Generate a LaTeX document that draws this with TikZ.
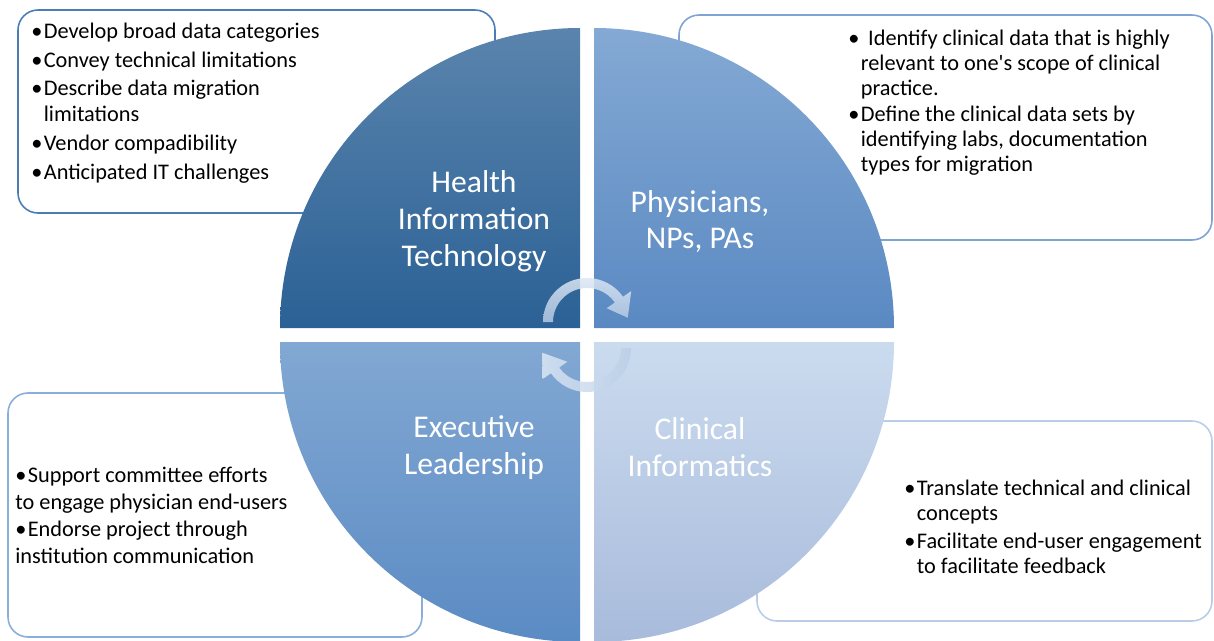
\documentclass[tikz,border=0pt]{standalone}
\usepackage{fontspec}
\setmainfont{Carlito}
\usepackage{xcolor}
\usepackage{tikz}
\usetikzlibrary{calc}

\definecolor{hitTop}{HTML}{5A84AD}
\definecolor{hitBot}{HTML}{2B6195}
\definecolor{phyTop}{HTML}{84A9D4}
\definecolor{phyBot}{HTML}{5A89C2}
\definecolor{exeTop}{HTML}{82A8D3}
\definecolor{exeBot}{HTML}{5B8BC4}
\definecolor{infTop}{HTML}{CBDBEF}
\definecolor{infBot}{HTML}{A8BBDB}
\definecolor{hitLine}{HTML}{4A7DB4}
\definecolor{phyLine}{HTML}{7FA4D4}
\definecolor{exeLine}{HTML}{8AAEDC}
\definecolor{infLine}{HTML}{B9CDE8}
\definecolor{arrTop}{HTML}{DCE7F4}
\definecolor{arrBot}{HTML}{B4C9E3}

\newcommand{\bul}{\textbullet\hspace{0.8pt}}
\newcommand{\nobul}{\phantom{\bul}}

\begin{document}
\begin{tikzpicture}[x=0.02cm, y=-0.02cm,
	infobox/.style={rounded corners=0.4cm, line width=0.9pt, fill=white},
	quadlabel/.style={text=white, align=center, inner sep=0pt, font=\fontsize{18pt}{21pt}\selectfont},
	bullets/.style={text=black, align=left, inner sep=0pt, anchor=west, font=\fontsize{12.7pt}{#1}\selectfont},
	cyclearrow/.style={fill opacity=0.85}]

	\useasboundingbox (0,0) rectangle (1214,640);

	% boxes, partly hidden by the wheel
	\draw[infobox, draw=hitLine] (18,10) rectangle (495,213);
	\draw[infobox, draw=phyLine] (679,15) rectangle (1212,240);
	\draw[infobox, draw=exeLine] (8,393) rectangle (422,637);
	\draw[infobox, draw=infLine] (757,421) rectangle (1212,621);

	% the four quarters
	\shade[top color=hitTop, bottom color=hitBot] (580,328) -- (280,328) arc[start angle=180, end angle=270, radius=300] -- cycle;
	\shade[top color=phyTop, bottom color=phyBot] (594,328) -- (594,28) arc[start angle=270, end angle=360, radius=300] -- cycle;
	\shade[top color=infTop, bottom color=infBot] (594,342) -- (894,342) arc[start angle=0, end angle=90, radius=300] -- cycle;
	\shade[top color=exeTop, bottom color=exeBot] (580,342) -- (580,642) arc[start angle=90, end angle=180, radius=300] -- cycle;

	\node[quadlabel] at (474,221) (hit) {Health\\Information\\Technology};
	\node[quadlabel] at (700,221.5) (phy) {Physicians,\\NPs, PAs};
	\node[quadlabel] at (474,447.5) (exe) {Executive\\Leadership};
	\node[quadlabel] at (700,447.5) (inf) {Clinical\\Informatics};

	% cycle arrows in the middle
	\coordinate (tc) at (587,322);
	\coordinate (bc) at (587,348);
	\shade[cyclearrow, top color=arrTop, bottom color=arrBot] ($(tc)+(180:44)$) arc[start angle=180, end angle=325, radius=44]
		-- ($(tc)+(325:54)$) -- ($(tc)+(354:41)$) -- ($(tc)+(325:24)$) -- ($(tc)+(325:34)$)
		arc[start angle=325, end angle=180, radius=34] -- cycle;
	\shade[cyclearrow, left color=arrTop, right color=arrBot!70!infTop] ($(bc)+(0:44)$) arc[start angle=0, end angle=145, radius=44]
		-- ($(bc)+(145:54)$) -- ($(bc)+(174:45)$) -- ($(bc)+(145:24)$) -- ($(bc)+(145:34)$)
		arc[start angle=145, end angle=0, radius=34] -- cycle;

	% box texts
	\node[bullets=14.8pt] at (31,103) (hitText) {\bul Develop broad data categories\\[1.5pt]
		\bul Convey technical limitations\\[1.5pt]
		\bul Describe data migration\\
		\nobul limitations\\[1.5pt]
		\bul Vendor compadibility\\[1.5pt]
		\bul Anticipated IT challenges};
	\node[bullets=14.2pt] at (848,102.5) (phyText) {\textbullet\ \,Identify clinical data that is highly\\
		\nobul relevant to one\textquotesingle s scope of clinical\\
		\nobul practice.\\[0.6pt]
		\bul Define the clinical data sets by\\
		\nobul identifying labs, documentation\\
		\nobul types for migration};
	\node[bullets=15.3pt] at (15,515.5) (exeText) {\bul Support committee efforts\\
		to engage physician end-users\\
		\bul Endorse project through\\
		institution communication};
	\node[bullets=14.2pt] at (904,527) (infText) {\bul Translate technical and clinical\\
		\nobul concepts\\[1.7pt]
		\bul Facilitate end-user engagement\\
		\nobul to facilitate feedback};
\end{tikzpicture}
\end{document}
